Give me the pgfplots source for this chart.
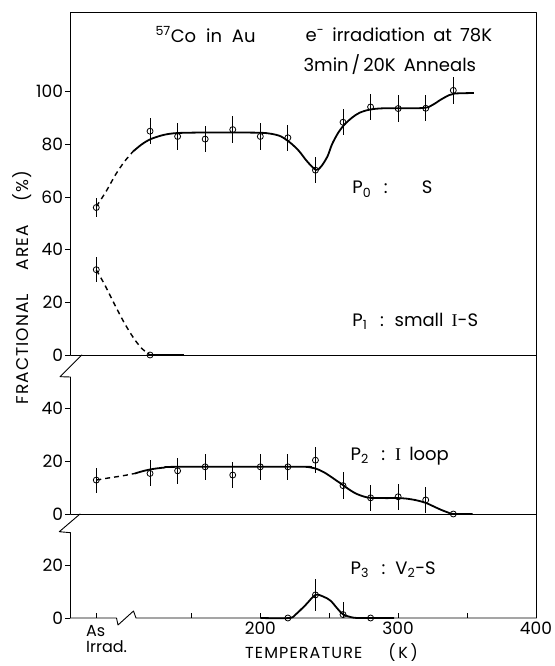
\documentclass[border=0pt]{standalone}
\usepackage{pgfplots}
\pgfplotsset{compat=1.18}
\usepackage{fontspec}
\setmainfont{Poppins}
\newfontfamily\seriffont{Liberation Serif}

\pgfplotsset{
  panel/.style={
    scale only axis, width=465.5pt, xmin=62.3, xmax=400,
    axis line style={draw=none},
    clip=false,
    ytick pos=left, ytick align=outside,
    major tick length=5pt,
    every tick/.style={black, line width=0.8pt},
    tick label style={font=\fontsize{17}{17}\selectfont},
    yticklabel style={xshift=1pt},
    /pgf/number format/assume math mode=true,
    anchor=south west,
  },
  curve/.style={black, line width=1.8pt, smooth, no marks},
  dcurve/.style={black, line width=1.4pt, smooth, no marks, dash pattern=on 5pt off 4pt},
  pts/.style={black, only marks, mark=o, mark size=3pt,
    mark options={fill=white, line width=0.8pt, solid},
    error bars/.cd, y dir=both, y explicit, error mark=none,
    error bar style={line width=0.8pt, solid}},
}

\begin{document}
\begin{tikzpicture}[font=\fontsize{18}{20}\selectfont]
% ---------------- top panel: P0 and P1 ----------------
\begin{axis}[panel, at={(0pt,263pt)}, height=342.3pt, ymin=0, ymax=130,
  ytick={0,20,...,100}, xtick=\empty]
\addplot[dcurve] coordinates {(81,56.4)(88,62)(95,68.5)(101.5,73.5)(107.7,77.3)};
\addplot[curve] coordinates {(107.7,77.3)(114,80)(120.5,82)(130,83.6)(140,84.3)(160,84.5)(180,84.5)(200,84.4)(208,84)(215,83)(222,80.5)(228,77.5)(234,73.5)(240.3,70.3)(244,71.5)(248.7,75.4)(252,80)(256.4,84.3)(261,87.5)(266.7,90.2)(272,92)(279.5,93.2)(290,93.7)(318,93.8)(325,95)(331,97)(337,98.7)(341,99.3)(355,99.5)};
\addplot[dcurve] coordinates {(81,32.3)(87,26.8)(94,19.5)(101,12.5)(108,6.5)(114,2.5)(120,0)};
\addplot[curve, sharp plot] coordinates {(120,0)(145,0)};
\addplot[pts] coordinates {(81,56) +- (0,3.5) (120,85) +- (0,5) (140,83) +- (0,5) (160,82) +- (0,5) (180,85.6) +- (0,5) (200,83) +- (0,5) (220,82.5) +- (0,5) (240,70.2) +- (0,5) (260,88.4) +- (0,5) (280,94.2) +- (0,5) (300,93.6) +- (0,5) (320,93.7) +- (0,5) (340,100.5) +- (0,5)};
\addplot[pts] coordinates {(81,32.4) +- (0,4.8) (120,0) +- (0,0)};
\node[inner sep=0] at (axis cs:160.3,121.7) {\textsuperscript{57}Co\hspace{0.55em}in\hspace{0.55em}Au};
\node[inner sep=0] at (axis cs:300.5,121.7) {e\textsuperscript{-}\hspace{0.45em}irradiation\hspace{0.45em}at\hspace{0.45em}78K};
\node[inner sep=0] at (axis cs:294,110.3) {3min\,/\,20K\hspace{0.45em}Anneals};
\node[inner sep=0, anchor=west] at (axis cs:266.7,63) {P\textsubscript{0}\hspace{0.7em}:\hspace{1.9em}S};
\node[inner sep=0, anchor=west] at (axis cs:266.7,12.7) {P\textsubscript{1}\hspace{0.7em}:\hspace{0.6em}small\hspace{0.45em}{\seriffont I}-S};
\end{axis}
% ---------------- middle panel: P2 ----------------
\begin{axis}[panel, at={(0pt,104pt)}, height=159pt, ymin=0, ymax=60,
  ytick={0,20,40}, xtick=\empty]
\addplot[dcurve] coordinates {(81,12.8)(90,13.6)(100,14.4)(109,15.3)};
\addplot[curve] coordinates {(109,15.3)(115,16.2)(121,16.9)(130,17.5)(140,17.8)(230,17.8)(236,17.6)(241,17)(246,15.8)(250,14.5)(255,12.7)(259.5,11.1)(264,9.4)(269,7.8)(275,6.6)(280,6.1)(290,6)(300,6)(306,5.8)(313,5.2)(320,4.2)(326,2.8)(331,1.6)(336,0.6)(340,0)(354,0)};
\addplot[pts] coordinates {(81,12.8) +- (0,4.7) (120,15.3) +- (0,4.9) (140,16.3) +- (0,5) (160,17.8) +- (0,5) (180,14.7) +- (0,5) (200,17.8) +- (0,5) (220,17.8) +- (0,5) (240,20.3) +- (0,5) (260,10.7) +- (0,5) (280,6.1) +- (0,5) (300,6.5) +- (0,5) (320,5.3) +- (0,5) (340,0) +- (0,0)};
\node[inner sep=0, anchor=west] at (axis cs:265.4,21.8) {P\textsubscript{2}\hspace{0.7em}:\hspace{0.55em}{\seriffont I}\hspace{0.45em}loop};
\end{axis}
% ---------------- bottom panel: P3 ----------------
\begin{axis}[panel, at={(0pt,0pt)}, height=104pt, ymin=0, ymax=39.2,
  ytick={0,20}, xtick={81,150,200,250,300,350,400},
  xticklabels={,,200,,300,,400}, xtick pos=left, xtick align=inside]
\addplot[curve] coordinates {(200,0)(221,0)(226,1.5)(233,5)(240,8.7)(246,8)(251,6.5)(256,3.5)(260,1.4)(266,0.3)(272,0)(297,0)};
\addplot[pts] coordinates {(220,0) +- (0,0) (240,8.7) +- (0,6) (260,1.3) += (0,4.8) -= (0,1.3) (280,0) +- (0,0)};
\node[inner sep=0, anchor=west] at (axis cs:265.4,18.1) {P\textsubscript{3}\hspace{0.7em}:\hspace{0.55em}V\textsubscript{2}-S};
\end{axis}
% ---------------- frame with breaks ----------------
\begin{scope}[line width=0.9pt, line cap=round, line join=round]
\draw (0pt,263pt) -- (0pt,605.3pt) -- (465.5pt,605.3pt) -- (465.5pt,0pt);
\draw (0pt,263pt) -- (465.5pt,263pt);
\draw (0pt,104pt) -- (465.5pt,104pt);
\draw (11.2pt,263pt) -- (-10.5pt,241.3pt) -- (0pt,241pt) -- (0pt,104pt);
\draw (9.5pt,104pt) -- (-11.2pt,86.3pt) -- (0pt,85.3pt) -- (0pt,0pt);
\draw (0pt,0pt) -- (46pt,0pt) -- (47.5pt,-7pt) -- (63pt,7pt) -- (65.5pt,0pt) -- (465.5pt,0pt);
\end{scope}
% ---------------- labels ----------------
\node[inner sep=0, anchor=north west, align=left, font=\fontsize{16}{16}\selectfont] at (15.5pt,-7pt) {As\\Irrad.};
\node[inner sep=0, anchor=west, font=\fontsize{16}{16}\selectfont\addfontfeature{LetterSpace=7}] at (174.5pt,-35pt) {TEMPERATURE\hspace{26pt}(\,K\,)};
\node[inner sep=0, rotate=90, font=\fontsize{17}{17}\selectfont\addfontfeature{LetterSpace=6}] at (-48.5pt,330.5pt) {FRACTIONAL\hspace{24pt}AREA\hspace{24pt}(\%)};
\pgfresetboundingbox
\path[use as bounding box] (-70.5pt,-48pt) rectangle (483.5pt,618pt);
\end{tikzpicture}
\end{document}
